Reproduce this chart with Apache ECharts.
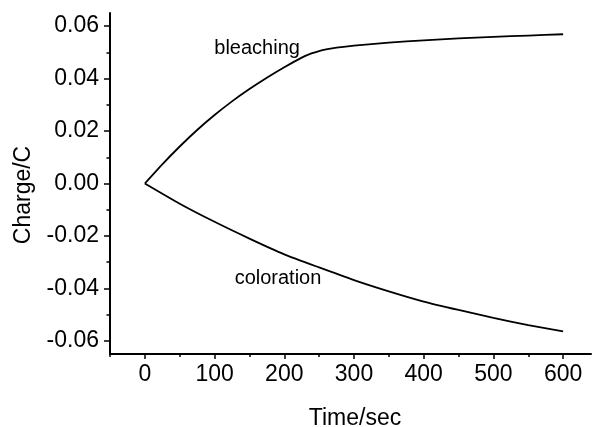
<!DOCTYPE html>
<html>
<head>
<meta charset="utf-8">
<script src="https://cdn.jsdelivr.net/npm/echarts@6/dist/echarts.min.js"></script>
<style>
  html, body { margin: 0; padding: 0; background: #fff; }
  #chart { width: 592px; height: 427px; }
</style>
</head>
<body>
<div id="chart"></div>
<script>
// bleaching curve (time in sec, charge in C)
var bleachTime = [0, 25, 50, 75, 100, 125, 150, 175, 200, 225, 240, 250, 260, 275, 300, 350, 400, 450, 500, 550, 600];
var bleachCharge = [0, 0.0073, 0.0141, 0.0204, 0.0261, 0.0313, 0.0360, 0.0403, 0.0443, 0.0480, 0.0497, 0.0505, 0.0511, 0.0518, 0.0526, 0.0537, 0.0546, 0.0553, 0.0559, 0.0564, 0.0569];

// coloration curve
var colorTime = [0, 50, 100, 150, 200, 250, 300, 350, 400, 450, 500, 550, 600];
var colorCharge = [0, -0.0077, -0.0146, -0.0210, -0.0270, -0.0320, -0.0368, -0.0411, -0.0450, -0.0482, -0.0512, -0.0540, -0.0564];

// ticks
var xMajor = [0, 100, 200, 300, 400, 500, 600];
var xMinor = [-50, 50, 150, 250, 350, 450, 550];
var yMajor = [-0.06, -0.04, -0.02, 0, 0.02, 0.04, 0.06];
var yMinor = [-0.05, -0.03, -0.01, 0.01, 0.03, 0.05];

// text labels placed in data coords
var bleachLabel = ['bleaching', 161, 0.0515];
var colorLabel = ['coloration', 191, -0.0364];

function pairs(xs, ys) {
	var out = [];
	for (var i = 0; i < xs.length; i++) out.push([xs[i], ys[i]]);
	return out;
}

var font = 'Liberation Sans, Arial, sans-serif';
var chart = echarts.init(document.getElementById('chart'), null, { renderer: 'canvas' });

var lineStyle = { color: '#000', width: 1.8 };

function textMark(lbl) {
	return {
		symbol: 'circle',
		symbolSize: 0,
		silent: true,
		label: { show: true, position: 'inside', color: '#000', fontSize: 20, fontFamily: font, formatter: lbl[0] },
		data: [{ coord: [lbl[1], lbl[2]] }]
	};
}

var option = {
	animation: false,
	backgroundColor: '#fff',
	grid: { left: 110, right: 1, top: 13, bottom: 73, containLabel: false, outerBoundsMode: 'none' },
	xAxis: [{
		type: 'value',
		position: 'bottom',
		min: -50,
		max: 640,
		name: 'Time/sec',
		nameLocation: 'middle',
		nameGap: 53,
		nameTextStyle: { color: '#000', fontSize: 23, fontFamily: font, padding: [0, 0, 0, 9] },
		axisLine: { onZero: false, lineStyle: { color: '#000', width: 2 } },
		axisTick: { show: true, inside: false, length: 5, customValues: xMajor, lineStyle: { color: '#000', width: 1.5 } },
		axisLabel: { customValues: xMajor, margin: 9, color: '#000', fontSize: 23, fontFamily: font },
		splitLine: { show: false }
	}, {
		type: 'value',
		position: 'bottom',
		min: -50,
		max: 640,
		axisLine: { show: false, onZero: false },
		axisTick: { show: true, length: 3, customValues: xMinor, lineStyle: { color: '#000', width: 1.5 } },
		axisLabel: { show: false },
		splitLine: { show: false }
	}],
	yAxis: [{
		type: 'value',
		position: 'left',
		min: -0.065,
		max: 0.065,
		name: 'Charge/C',
		nameLocation: 'middle',
		nameRotate: 90,
		nameGap: 75,
		nameTextStyle: { color: '#000', fontSize: 23, fontFamily: font, padding: [0, 23, 0, 0] },
		axisLine: { onZero: false, lineStyle: { color: '#000', width: 2 } },
		axisTick: { show: true, inside: false, length: 6, customValues: yMajor, lineStyle: { color: '#000', width: 1.5 } },
		axisLabel: {
			customValues: yMajor,
			margin: 11,
			color: '#000',
			fontSize: 23,
			fontFamily: font,
			formatter: function(v) { return v.toFixed(2); }
		},
		splitLine: { show: false }
	}, {
		type: 'value',
		position: 'left',
		min: -0.065,
		max: 0.065,
		axisLine: { show: false, onZero: false },
		axisTick: { show: true, length: 3.5, customValues: yMinor, lineStyle: { color: '#000', width: 1.5 } },
		axisLabel: { show: false },
		splitLine: { show: false }
	}],
	series: [{
		name: 'bleaching',
		type: 'line',
		xAxisIndex: 0,
		yAxisIndex: 0,
		data: pairs(bleachTime, bleachCharge),
		showSymbol: false,
		smooth: 0.2,
		lineStyle: lineStyle,
		markPoint: textMark(bleachLabel)
	}, {
		name: 'coloration',
		type: 'line',
		xAxisIndex: 0,
		yAxisIndex: 0,
		data: pairs(colorTime, colorCharge),
		showSymbol: false,
		smooth: 0.2,
		lineStyle: lineStyle,
		markPoint: textMark(colorLabel)
	}]
};

chart.setOption(option);
</script>
</body>
</html>
